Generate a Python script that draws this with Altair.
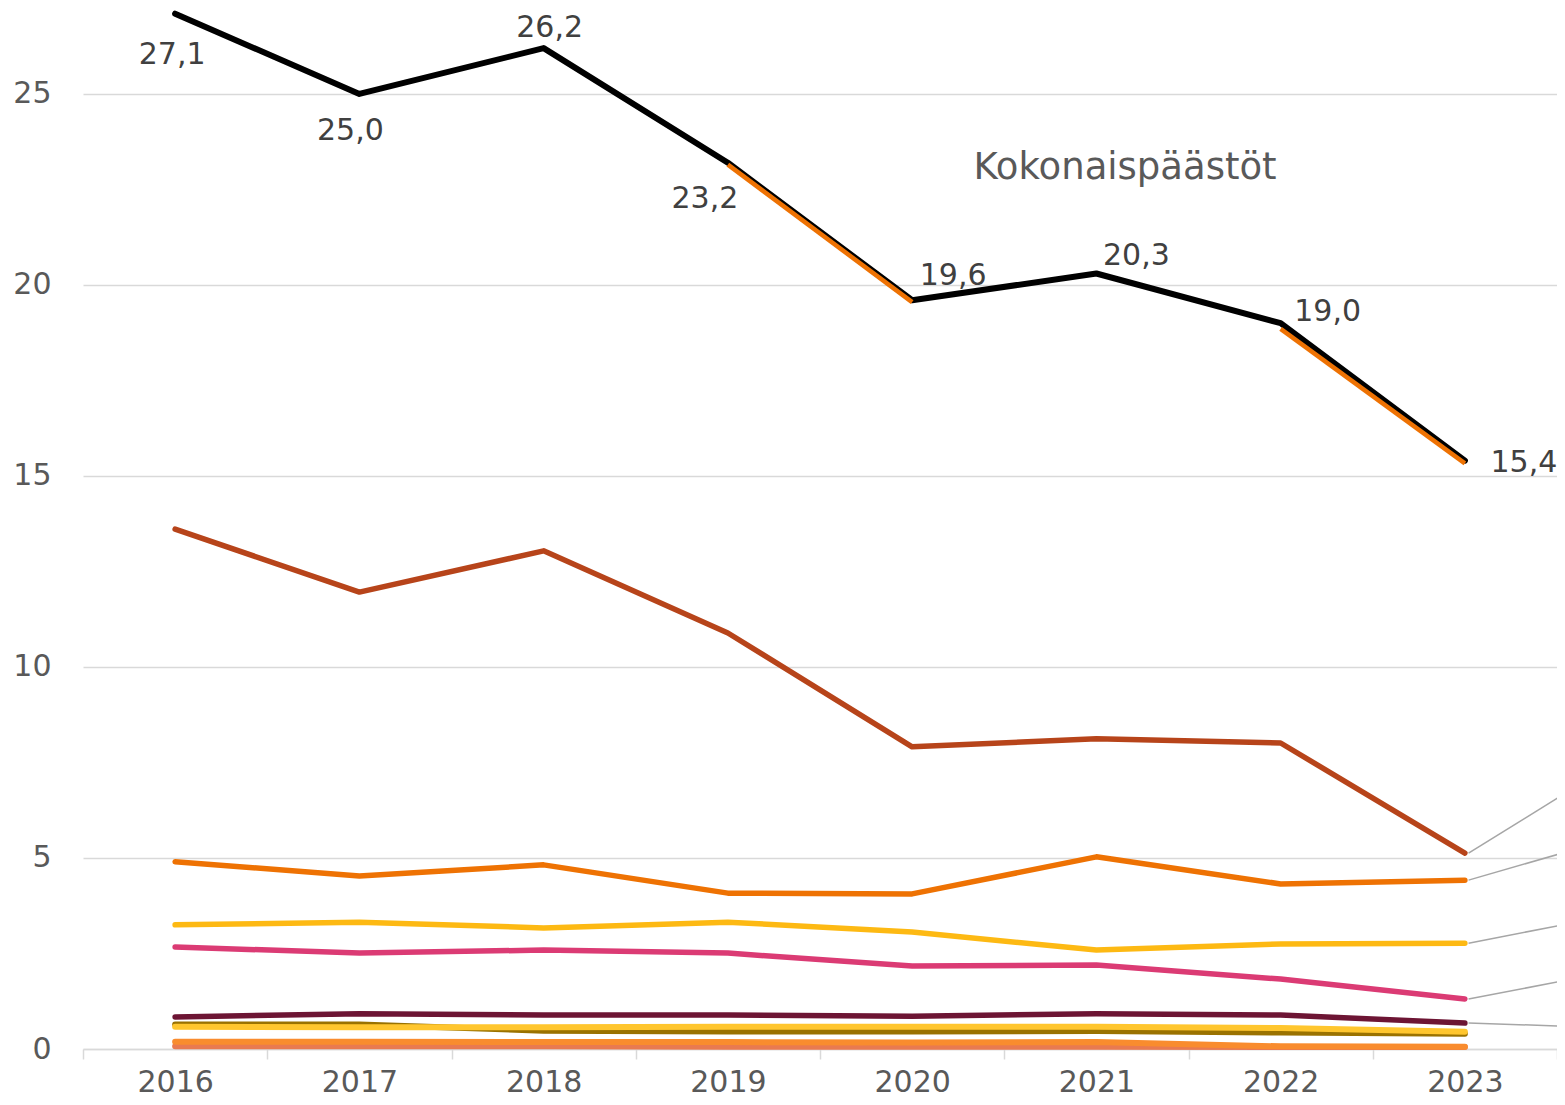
import altair as alt
import pandas as pd

# ---------------- data ----------------
years = [2016, 2017, 2018, 2019, 2020, 2021, 2022, 2023]

kokonais = [27.1, 25.0, 26.2, 23.2, 19.6, 20.3, 19.0, 15.4]
kokonais_overlay = [None, None, None, 23.15, 19.55, None, 18.85, 15.33]
ser_ruskea = [13.61, 11.96, 13.04, 10.89, 7.91, 8.12, 8.01, 5.13]
ser_oranssi = [4.90, 4.53, 4.82, 4.08, 4.06, 5.03, 4.32, 4.42]
ser_keltainen = [3.25, 3.32, 3.17, 3.32, 3.06, 2.59, 2.75, 2.77]
ser_pinkki = [2.67, 2.51, 2.59, 2.51, 2.17, 2.20, 1.83, 1.31]
ser_viini = [0.84, 0.92, 0.89, 0.89, 0.86, 0.92, 0.89, 0.68]
ser_kulta = [0.64, 0.64, 0.48, 0.46, 0.46, 0.47, 0.43, 0.40]
ser_vaaleankeltainen = [0.58, 0.57, 0.57, 0.58, 0.58, 0.58, 0.55, 0.45]
ser_vaaleaoranssi = [0.19, 0.19, 0.18, 0.18, 0.17, 0.18, 0.07, 0.06]
ser_lohi = [0.07, 0.07, 0.07, 0.06, 0.06, 0.06, 0.05, 0.05]

# end values of the (cropped) label leader lines on the right
leader_ends = {
    "ruskea": 6.65,
    "oranssi": 5.13,
    "keltainen": 3.25,
    "pinkki": 1.78,
    "viini": 0.60,
}

total_label = "Kokonaispäästöt"

# ---------------- styles ----------------
FONT = "DejaVu Sans"
GRID = "#d9d9d9"
AXIS_TXT = "#595959"
LABEL_TXT = "#404040"

series = [
    ("lohi", ser_lohi, "#E97A50", 6),
    ("vaaleaoranssi", ser_vaaleaoranssi, "#F98C2E", 6),
    ("kulta", ser_kulta, "#9A7200", 6),
    ("vaaleankeltainen", ser_vaaleankeltainen, "#FFC62E", 6),
    ("viini", ser_viini, "#6D1534", 5.5),
    ("pinkki", ser_pinkki, "#DB3B74", 5.5),
    ("keltainen", ser_keltainen, "#FDB913", 5.5),
    ("oranssi", ser_oranssi, "#EE7203", 5.5),
    ("ruskea", ser_ruskea, "#B7441A", 5.5),
    ("kokonais", kokonais, "#000000", 6),
]

# label offsets (px) for the total series labels
label_offsets = [(-3, 41), (-9, 37), (6, -20), (-23, 36), (41, -24), (40, -18), (47, -11), (59, 2)]

x_scale = alt.Scale(domain=[2015.5, 2023.5], nice=False, zero=False)
y_scale = alt.Scale(domain=[0, 27.25], nice=False, zero=True)

x_vals = [2015.5 + 0.5 * i for i in range(17)]
x_axis = alt.Axis(
    title=None,
    values=x_vals,
    grid=False,
    domainColor=GRID,
    domainWidth=1.5,
    tickColor=GRID,
    tickWidth=1.5,
    tickSize=10,
    tickOpacity={"condition": {"test": "datum.value % 1 === 0", "value": 0}, "value": 1},
    labelExpr="datum.value % 1 === 0 ? toString(datum.value) : ''",
    labelOverlap=False,
    labelFlush=False,
    labelBound=False,
    labelFont=FONT,
    labelFontSize=30,
    labelColor=AXIS_TXT,
    labelPadding=8,
)
y_axis = alt.Axis(
    title=None,
    values=[0, 5, 10, 15, 20, 25],
    grid=True,
    gridColor=GRID,
    gridWidth=1.5,
    domain=False,
    ticks=False,
    labelFont=FONT,
    labelFontSize=30,
    labelColor=AXIS_TXT,
    labelPadding=32,
)

layers = []

# grid/axis base layer
base_df = pd.DataFrame({"year": years, "value": kokonais})
layers.append(
    alt.Chart(base_df)
    .mark_point(opacity=0)
    .encode(x=alt.X("year:Q", scale=x_scale, axis=x_axis), y=alt.Y("value:Q", scale=y_scale, axis=y_axis))
)

for name, vals, color, w in series:
    df = pd.DataFrame({"year": years, "value": vals})
    layers.append(
        alt.Chart(df)
        .mark_line(color=color, strokeWidth=w, strokeCap="round", strokeJoin="round")
        .encode(x=alt.X("year:Q", scale=x_scale, axis=x_axis), y=alt.Y("value:Q", scale=y_scale, axis=y_axis))
    )

# orange overlay segments on the total line
seg_rows = []
seg = 0
for i in range(len(years) - 1):
    a, b = kokonais_overlay[i], kokonais_overlay[i + 1]
    if a is not None and b is not None:
        seg_rows.append({"year": years[i], "value": a, "seg": seg})
        seg_rows.append({"year": years[i + 1], "value": b, "seg": seg})
        seg += 1
ov_df = pd.DataFrame(seg_rows)
layers.append(
    alt.Chart(ov_df)
    .mark_line(color="#EE7203", strokeWidth=4.5, strokeCap="butt")
    .encode(
        x=alt.X("year:Q", scale=x_scale, axis=x_axis),
        y=alt.Y("value:Q", scale=y_scale, axis=y_axis),
        detail="seg:N",
    )
)

# leader lines to the (cropped) right-hand labels
end_vals = {name: vals[-1] for name, vals, _, _ in series}
lead_df = pd.DataFrame(
    [
        {"x": years[-1] + 0.02, "x2": years[-1] + 0.53, "y": end_vals[k], "y2": v}
        for k, v in leader_ends.items()
    ]
)
layers.append(
    alt.Chart(lead_df)
    .mark_rule(color="#a6a6a6", strokeWidth=1.5, clip=False)
    .encode(
        x=alt.X("x:Q", scale=x_scale, axis=x_axis),
        x2="x2:Q",
        y=alt.Y("y:Q", scale=y_scale, axis=y_axis),
        y2="y2:Q",
    )
)

# value labels of the total series
for i, (yr, v) in enumerate(zip(years, kokonais)):
    dx, dy = label_offsets[i]
    df = pd.DataFrame({"year": [yr], "value": [v]})
    layers.append(
        alt.Chart(df)
        .transform_calculate(lbl="replace(format(datum.value, '.1f'), '.', ',')")
        .mark_text(
            font=FONT, fontSize=30, color=LABEL_TXT, align="center", baseline="middle",
            dx=dx, dy=dy, clip=False,
        )
        .encode(
            x=alt.X("year:Q", scale=x_scale, axis=x_axis),
            y=alt.Y("value:Q", scale=y_scale, axis=y_axis),
            text="lbl:N",
        )
    )

# series name label
name_df = pd.DataFrame({"year": [years[5]], "value": [kokonais[5]], "name": [total_label]})
layers.append(
    alt.Chart(name_df)
    .mark_text(font=FONT, fontSize=37, color=AXIS_TXT, align="left", baseline="middle", dx=-123, dy=-106)
    .encode(
        x=alt.X("year:Q", scale=x_scale, axis=x_axis),
        y=alt.Y("value:Q", scale=y_scale, axis=y_axis),
        text="name:N",
    )
)

chart = (
    alt.layer(*layers)
    .properties(
        width=1474,
        height=1041,
        autosize=alt.AutoSizeParams(type="none"),
        padding={"left": 75, "top": 0, "right": 0, "bottom": 48},
        background="white",
    )
    .configure_view(stroke=None)
)

chart.save("out.html", embed_options={"renderer": "svg", "actions": False})
